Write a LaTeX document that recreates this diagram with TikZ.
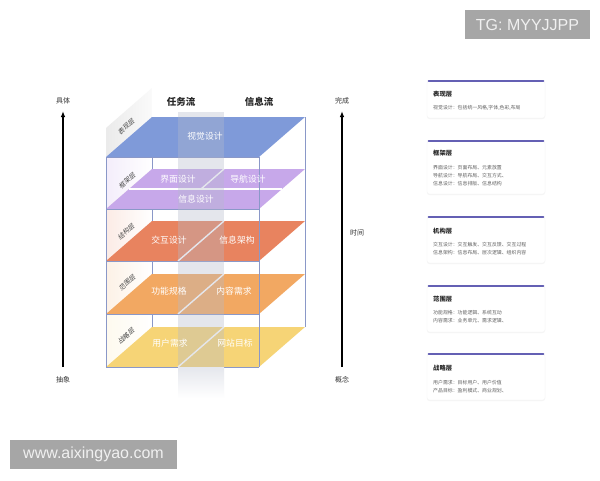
\documentclass[tikz,border=0pt]{standalone}
\usepackage{fontspec}
\setmainfont{Liberation Sans}
\newfontfamily\cjk{Noto Sans CJK SC}
\newfontfamily\cjkslant[FakeSlant=0.2]{Noto Sans CJK SC}
\usetikzlibrary{arrows.meta,shadows}
\definecolor{lblue}{HTML}{7F9AD9}
\definecolor{lpurp}{HTML}{C7A8EA}
\definecolor{lred}{HTML}{E8835F}
\definecolor{lorange}{HTML}{F2A862}
\definecolor{lyellow}{HTML}{F6D476}
\definecolor{edgec}{HTML}{8A98C8}
\definecolor{bandc}{HTML}{B4BACB}
\definecolor{cardtop}{HTML}{6460B4}
\definecolor{wmgray}{HTML}{A6A6A6}
\tikzset{
  edgeline/.style={draw=edgec, line width=0.8pt},
  planelabel/.style={text=white, font=\cjk\fontsize{8.8}{10}\selectfont, inner sep=0pt},
  sidelabel/.style={text=black!72, font=\cjkslant\fontsize{6.5}{7}\selectfont, rotate=42, inner sep=0pt},
  header/.style={text=black!85, font=\cjk\bfseries\fontsize{9.5}{11}\selectfont, inner sep=0pt},
  axislabel/.style={text=black!80, font=\cjk\fontsize{7}{8}\selectfont, inner sep=0pt},
  axisarrow/.style={line width=1.1pt, -{Latex[length=6pt,width=4.5pt]}},
  splitline/.style={white, line width=1.4pt},
  cardbox/.style={fill=white, draw=black!4, rounded corners=2.5pt, drop shadow={opacity=0.08, shadow xshift=0pt, shadow yshift=-1pt}},
  cardbar/.style={cardtop, line width=1.6pt, line cap=round},
  cardtitle/.style={anchor=west, text=black!85, font=\cjk\bfseries\fontsize{6.3}{7}\selectfont, inner sep=0pt},
  cardbody/.style={anchor=west, text=black!62, font=\cjk\fontsize{4.9}{6}\selectfont, inner sep=0pt},
  watermark/.style={fill=wmgray, text=white!94!black, font=\fontsize{16}{18}\selectfont, inner sep=0pt}
}
\begin{document}
\begin{tikzpicture}[x=1pt,y=-1pt]
\useasboundingbox (0,0) rectangle (600,480);
\fill[white] (0,0) rectangle (600,480);

% ---------- left face panels ----------
\shade[left color=black!8, right color=black!2] (106,157)--(106,128)--(152,88)--(152,117)--cycle;
\shade[left color=lpurp!20, right color=white] (106,209)--(106,157)--(152,117)--(152,169)--cycle;
\shade[left color=lred!16, right color=white] (106,261)--(106,209)--(152,169)--(152,221)--cycle;
\shade[left color=lorange!16, right color=white] (106,314)--(106,261)--(152,221)--(152,274)--cycle;
\shade[left color=lyellow!12, right color=white] (106,367)--(106,314)--(152,274)--(152,327)--cycle;

% ---------- back edges ----------
\draw[edgeline] (152,117)--(152,327);
\draw[edgeline] (305,117)--(305,327);

% ---------- layer planes ----------
\fill[lblue] (106,157)--(259,157)--(305,117)--(152,117)--cycle;
\fill[lpurp] (106,209)--(259,209)--(305,169)--(152,169)--cycle;
\fill[lred] (106,261)--(259,261)--(305,221)--(152,221)--cycle;
\fill[lorange] (106,314)--(259,314)--(305,274)--(152,274)--cycle;
\fill[lyellow] (106,367)--(259,367)--(305,327)--(152,327)--cycle;

% white split lines
\draw[splitline] (129,189)--(282,189);
\draw[splitline] (201,189)--(224,169);
\draw[splitline] (178,261)--(224,221);
\draw[splitline] (178,314)--(224,274);
\draw[splitline] (178,367)--(224,327);

% ---------- front edges ----------
\draw[edgeline] (106,157)--(106,367);
\draw[edgeline] (259,157)--(259,367);
\draw[edgeline] (106,157)--(259,157);
\draw[edgeline] (106,209)--(259,209);
\draw[edgeline] (106,261)--(259,261);
\draw[edgeline] (106,314)--(259,314);
\draw[edgeline] (106,367)--(259,367);

% ---------- translucent divider band ----------
\fill[bandc, opacity=0.35] (178,112) rectangle (224,367);
\shade[top color=bandc!35, bottom color=white] (178,367) rectangle (224,398);

% ---------- plane labels ----------
\node[planelabel] (vis) at (205,136) {视觉设计};
\node[planelabel] (jm) at (178,179) {界面设计};
\node[planelabel] (dh) at (248,179) {导航设计};
\node[planelabel] (xxsj) at (196,199) {信息设计};
\node[planelabel] (jh) at (169,240) {交互设计};
\node[planelabel] (xxjg) at (237,240) {信息架构};
\node[planelabel] (gn) at (169,291) {功能规格};
\node[planelabel] (nr) at (234,291) {内容需求};
\node[planelabel] (yh) at (170,343) {用户需求};
\node[planelabel] (wz) at (235,343) {网站目标};

% ---------- side labels ----------
\node[sidelabel] (s1) at (126,127) {表现层};
\node[sidelabel] (s2) at (127,181) {框架层};
\node[sidelabel] (s3) at (126,232) {结构层};
\node[sidelabel] (s4) at (127,283) {范围层};
\node[sidelabel] (s5) at (126,336) {战略层};

% ---------- headers ----------
\node[header] (h1) at (181,102) {任务流};
\node[header] (h2) at (259,102) {信息流};

% ---------- axes ----------
\coordinate (la0) at (63,367);
\coordinate (la1) at (63,111);
\coordinate (ra0) at (342,367);
\coordinate (ra1) at (342,111);
\draw[axisarrow] (la0)--(la1);
\draw[axisarrow] (ra0)--(ra1);
\node[axislabel] (jt) at (63,101) {具体};
\node[axislabel] (cx) at (63,380) {抽象};
\node[axislabel] (wc) at (342,101) {完成};
\node[axislabel] (gnn) at (342,380) {概念};
\node[axislabel] (sj) at (357,233) {时间};

% ---------- cards ----------
% card 1
\fill[cardbox] (427,81) rectangle (545,118);
\draw[cardbar] (428.5,81)--(543.5,81);
\node[cardtitle] (c1t) at (433,94) {表现层};
\node[cardbody] (c1a) at (433,108) {视觉设计：包括统一风格,字体,色彩,布局};
% card 2
\fill[cardbox] (427,141) rectangle (545,194);
\draw[cardbar] (428.5,141)--(543.5,141);
\node[cardtitle] (c2t) at (433,153) {框架层};
\node[cardbody] (c2a) at (433,168) {界面设计：页面布局、元素放置};
\node[cardbody] (c2b) at (433,176) {导航设计：导航布局、交互方式、};
\node[cardbody] (c2c) at (433,184) {信息设计：信息排版、信息结构};
% card 3
\fill[cardbox] (427,217) rectangle (545,263);
\draw[cardbar] (428.5,217)--(543.5,217);
\node[cardtitle] (c3t) at (433,231) {机构层};
\node[cardbody] (c3a) at (433,245) {交互设计：交互触发、交互反馈、交互过程};
\node[cardbody] (c3b) at (433,253) {信息架构：信息布局、层次逻辑、组织内容};
% card 4
\fill[cardbox] (427,286) rectangle (545,332);
\draw[cardbar] (428.5,286)--(543.5,286);
\node[cardtitle] (c4t) at (433,299) {范围层};
\node[cardbody] (c4a) at (433,313) {功能规格：功能逻辑、系统互动};
\node[cardbody] (c4b) at (433,321) {内容需求：业务单元、需求逻辑、};
% card 5
\fill[cardbox] (427,354) rectangle (545,400);
\draw[cardbar] (428.5,354)--(543.5,354);
\node[cardtitle] (c5t) at (433,368) {战略层};
\node[cardbody] (c5a) at (433,383) {用户需求：目标用户、用户价值};
\node[cardbody] (c5b) at (433,391) {产品目标：盈利模式、商业规划、};

% ---------- watermarks ----------
\node[watermark, minimum width=125pt, minimum height=29pt] (wm1) at (527.5,24.5) {TG: MYYJJPP};
\node[watermark, minimum width=167pt, minimum height=29pt] (wm2) at (93.5,454.5) {www.aixingyao.com};
\end{tikzpicture}
\end{document}
